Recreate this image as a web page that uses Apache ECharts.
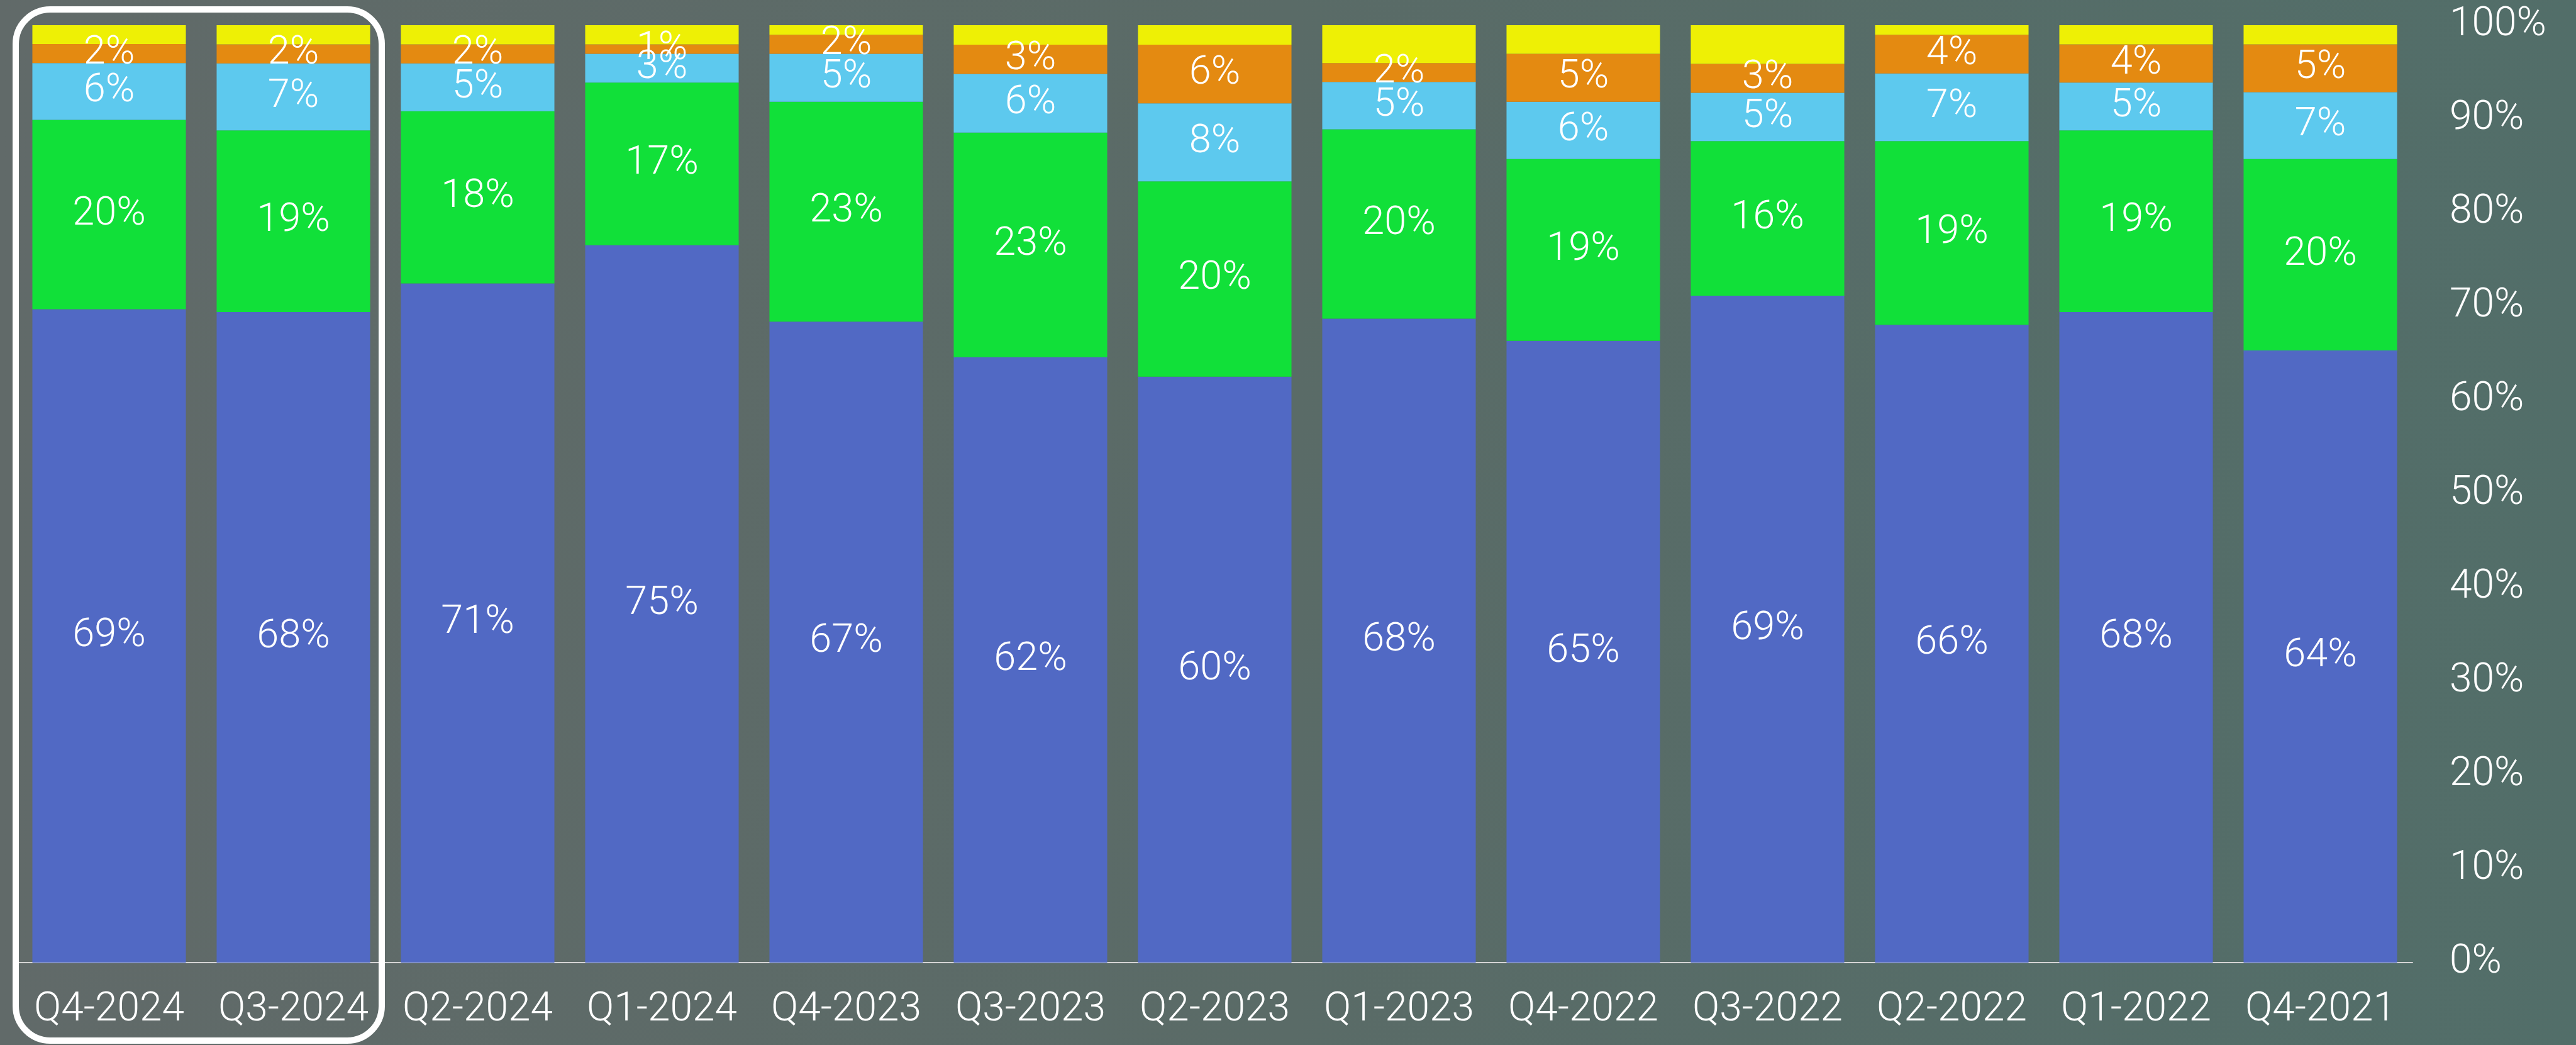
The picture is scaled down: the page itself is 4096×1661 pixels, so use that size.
<!DOCTYPE html>
<html>
<head>
<meta charset="utf-8">
<script src="https://cdn.jsdelivr.net/npm/echarts@6/dist/echarts.min.js"></script>
<style>
  html, body { margin: 0; padding: 0; }
  #main {
    width: 4096px;
    height: 1661px;
    background: linear-gradient(90deg, #616a69 0%, #5a6b67 50%, #526e69 100%);
  }
</style>
</head>
<body>
<div id="main"></div>
<script>
// quarters, newest first
var quarters = ["Q4-2024", "Q3-2024", "Q2-2024", "Q1-2024", "Q4-2023", "Q3-2023", "Q2-2023",
  "Q1-2023", "Q4-2022", "Q3-2022", "Q2-2022", "Q1-2022", "Q4-2021"];

// raw shares as printed on the bars (yellow is not labelled)
var blueShare = [69, 68, 71, 75, 67, 62, 60, 68, 65, 69, 66, 68, 64];
var greenShare = [20, 19, 18, 17, 23, 23, 20, 20, 19, 16, 19, 19, 20];
var skyShare = [6, 7, 5, 3, 5, 6, 8, 5, 6, 5, 7, 5, 7];
var orangeShare = [2, 2, 2, 1, 2, 3, 6, 2, 5, 3, 4, 4, 5];
var yellowShare = [2, 2, 2, 2, 1, 2, 2, 4, 3, 4, 1, 2, 2];

var yTicks = [0, 10, 20, 30, 40, 50, 60, 70, 80, 90, 100];

var FONT = "Roboto, 'Open Sans', sans-serif";

// bars are stacked to 100%, so every column is normalised by its own total
var totals = quarters.map(function (q, i) {
  return blueShare[i] + greenShare[i] + skyShare[i] + orangeShare[i] + yellowShare[i];
});

function makeSeries(name, raw, color, showLabel) {
  return {
    name: name,
    type: "bar",
    stack: "all",
    barCategoryGap: "16.7%",
    itemStyle: { color: color },
    label: {
      show: showLabel,
      position: "inside",
      color: "#fff",
      fontFamily: FONT,
      fontWeight: 300,
      fontSize: 63,
      formatter: function (p) {
        return raw[p.dataIndex] + "%";
      }
    },
    emphasis: { disabled: true },
    data: raw.map(function (v, i) {
      return v / totals[i] * 100;
    })
  };
}

var chart = echarts.init(document.getElementById("main"));

chart.setOption({
  animation: false,
  grid: { left: 27, right: 260, top: 40, bottom: 131, containLabel: false },
  xAxis: {
    type: "category",
    data: quarters,
    axisTick: { show: false },
    axisLine: { lineStyle: { color: "#d4d4d4", width: 2 } },
    axisLabel: {
      interval: 0,
      color: "#fff",
      fontFamily: FONT,
      fontWeight: 300,
      fontSize: 64,
      margin: 44
    }
  },
  yAxis: {
    type: "value",
    position: "right",
    min: yTicks[0],
    max: yTicks[yTicks.length - 1],
    interval: yTicks[1] - yTicks[0],
    splitLine: { show: false },
    axisLine: { show: false },
    axisTick: { show: false },
    axisLabel: {
      color: "#fff",
      fontFamily: FONT,
      fontWeight: 300,
      fontSize: 64,
      margin: 59,
      formatter: "{value}%"
    }
  },
  series: [
    makeSeries("blue", blueShare, "#5169c4", true),
    makeSeries("green", greenShare, "#11e039", true),
    makeSeries("sky", skyShare, "#5dc9ee", true),
    makeSeries("orange", orangeShare, "#e48a11", true),
    makeSeries("yellow", yellowShare, "#eef005", false)
  ]
});

// white rounded frame around the two latest quarters
var p0 = chart.convertToPixel({ xAxisIndex: 0 }, quarters[0]);
var p1 = chart.convertToPixel({ xAxisIndex: 0 }, quarters[1]);
var band = p1 - p0;
var boxLeft = p0 - band / 2 - 2;
var boxRight = p1 + band / 2 - 6;
chart.setOption({
  graphic: [{
    type: "rect",
    shape: { x: boxLeft, y: 15, width: boxRight - boxLeft, height: 1639, r: 55 },
    style: { fill: "none", stroke: "#fff", lineWidth: 10 },
    z: 100
  }]
});
</script>
</body>
</html>
